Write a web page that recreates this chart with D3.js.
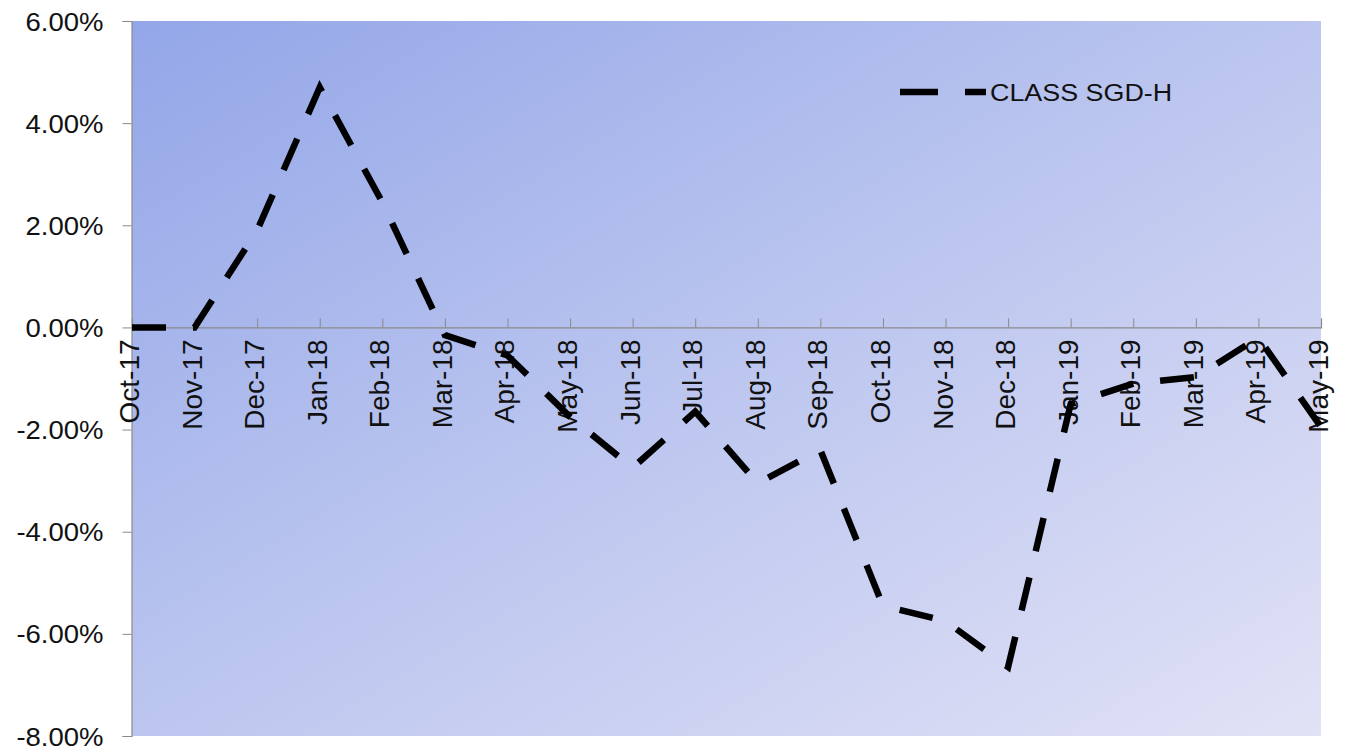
<!DOCTYPE html>
<html>
<head>
<meta charset="utf-8">
<script src="https://cdn.jsdelivr.net/npm/d3@7/dist/d3.min.js"></script>
<style>
  html, body { margin: 0; padding: 0; background: #ffffff; }
  svg { display: block; }
  text { font-family: "Liberation Sans", Arial, sans-serif; fill: #111; }
</style>
</head>
<body>
<svg id="chart" width="1347" height="751"></svg>
<script>
// Monthly performance of the SGD-hedged share class
const months = ["Oct-17","Nov-17","Dec-17","Jan-18","Feb-18","Mar-18","Apr-18","May-18",
                "Jun-18","Jul-18","Aug-18","Sep-18","Oct-18","Nov-18","Dec-18","Jan-19",
                "Feb-19","Mar-19","Apr-19","May-19"];
const classSgdH = [0.0, 0.0, 1.9, 4.7, 2.45, -0.15, -0.55, -1.75,
                   -2.75, -1.65, -3.05, -2.4, -5.45, -5.75, -6.65, -1.5,
                   -1.1, -0.97, -0.2, -1.95];
const yTicks = [6, 4, 2, 0, -2, -4, -6, -8];
const seriesName = "CLASS SGD-H";

const svg = d3.select("#chart");
const plot = { left: 132, right: 1321, top: 21, bottom: 736 };

const x = d3.scalePoint().domain(months).range([plot.left, plot.right]);
const y = d3.scaleLinear().domain([-8, 6]).range([plot.bottom, plot.top]);

// Percent labels with a plain hyphen for negatives
const pct = d => (d < 0 ? "-" : "") + Math.abs(d).toFixed(2) + "%";

// Plot-area gradient background
const defs = svg.append("defs");
const grad = defs.append("linearGradient")
  .attr("id", "bg").attr("x1", "0").attr("y1", "0").attr("x2", "1").attr("y2", "1");
grad.append("stop").attr("offset", "0%").attr("stop-color", "#93a6e8");
grad.append("stop").attr("offset", "50%").attr("stop-color", "#bcc6ef");
grad.append("stop").attr("offset", "100%").attr("stop-color", "#e2e2f6");

svg.append("rect")
  .attr("x", plot.left).attr("y", plot.top)
  .attr("width", plot.right - plot.left).attr("height", plot.bottom - plot.top)
  .attr("fill", "url(#bg)");

// Y axis
const yAxis = svg.append("g")
  .attr("transform", `translate(${plot.left - 0.5},0)`)
  .call(d3.axisLeft(y).tickValues(yTicks).tickSize(9).tickPadding(0).tickFormat(pct));
yAxis.select(".domain").attr("stroke", "#8a8a8a").attr("stroke-width", 1.2);
yAxis.selectAll(".tick line").attr("stroke", "#8a8a8a");
yAxis.selectAll(".tick text")
  .attr("x", null).attr("dy", null)
  .attr("text-anchor", "end")
  .attr("font-size", 25)
  .attr("transform", "translate(-28,9) scale(1.1,1)");

// Zero line with upward ticks and rotated month labels
const xAxis = svg.append("g")
  .attr("transform", `translate(0,${y(0)})`)
  .call(d3.axisTop(x).tickSize(9).tickPadding(0).tickFormat(() => ""));
xAxis.select(".domain").attr("stroke", "#8a8a8a").attr("stroke-width", 1.2);
xAxis.selectAll(".tick line").attr("stroke", "#8a8a8a");

svg.append("g").selectAll("text")
  .data(months)
  .join("text")
  .attr("text-anchor", "end")
  .attr("font-size", 28)
  .attr("transform", d => `translate(${x(d) + 7},${y(0) + 12}) rotate(-90)`)
  .text(d => d);

// Dashed series line
const line = d3.line()
  .x((d, i) => x(months[i]))
  .y(d => y(d));

svg.append("path")
  .datum(classSgdH)
  .attr("d", line)
  .attr("fill", "none")
  .attr("stroke", "#000")
  .attr("stroke-width", 6.5)
  .attr("stroke-dasharray", "34,27");

// Legend
const legend = svg.append("g").attr("transform", "translate(900,92)");
legend.append("line")
  .attr("x1", 0).attr("x2", 86).attr("y1", 0).attr("y2", 0)
  .attr("stroke", "#000").attr("stroke-width", 6.5)
  .attr("stroke-dasharray", "38,27");
legend.append("text")
  .attr("x", 0).attr("y", 0).attr("dy", "0.36em")
  .attr("font-size", 24)
  .attr("fill", "#1a1a2e")
  .attr("transform", "translate(90,0) scale(1.12,1)")
  .text(seriesName);
</script>
</body>
</html>
